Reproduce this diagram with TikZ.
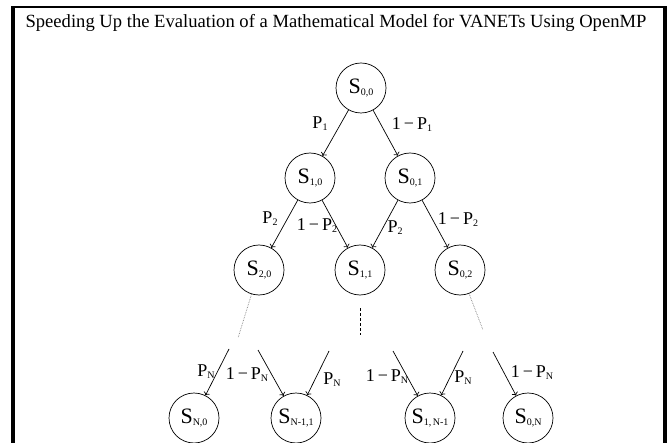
\documentclass[tikz,border=0pt]{standalone}
\usepackage{fontspec}
\setmainfont{Liberation Serif}
\usepackage{tikz}
\usetikzlibrary{arrows.meta, positioning, calc}

\newcommand{\stt}[1]{S\raisebox{-2pt}{\fontsize{10}{10}\selectfont #1}}
\newcommand{\prb}[1]{P\raisebox{-2pt}{\fontsize{10}{10}\selectfont #1}}

\begin{document}
\begin{tikzpicture}[
    x=1pt, y=-1pt,
    >=To,
    state/.style={circle, draw, line width=0.7pt, minimum size=50pt, inner sep=0pt, font=\fontsize{22}{24}\selectfont},
    trans/.style={->, line width=0.7pt},
    prob/.style={font=\fontsize{18}{20}\selectfont, inner sep=0pt},
]
    \useasboundingbox (0,0) rectangle (671,443);
    \fill[white] (0,0) rectangle (671,443);

    % frame of the page
    \fill[black] (11,6) rectangle (15,443);
    \fill[black] (663,6) rectangle (667,443);
    \fill[black] (11,6) rectangle (667,8);

    \node[anchor=base, font=\fontsize{18.6}{21}\selectfont] (title) at (336,28)
        {Speeding Up the Evaluation of a Mathematical Model for VANETs Using OpenMP};

    % states
    \node[state] (s00) at (361,88) {\stt{0,0}};
    \node[state] (s10) at (310,178) {\stt{1,0}};
    \node[state] (s01) at (410,178) {\stt{0,1}};
    \node[state] (s20) at (259,270) {\stt{2,0}};
    \node[state] (s11) at (360,270) {\stt{1,1}};
    \node[state] (s02) at (460,270) {\stt{0,2}};
    \node[state] (sN0) at (194,418) {\stt{N,0}};
    \node[state] (sN11) at (296,418) {\stt{N-1,1}};
    \node[state] (s1N1) at (430,418) {\stt{1,\,N-1}};
    \node[state] (s0N) at (528,418) {\stt{0,N}};

    \draw[trans] (s00) -- (s10);
    \draw[trans] (s00) -- (s01);
    \draw[trans] (s10) -- (s20);
    \draw[trans] (s10) -- (s11);
    \draw[trans] (s01) -- (s11);
    \draw[trans] (s01) -- (s02);

    \node[prob] (p1) at (320,124) {\prb{1}};
    \node[prob] (q1) at (412,125) {1\,\textminus\,\prb{1}};
    \node[prob] (p2a) at (270,219) {\prb{2}};
    \node[prob] (q2a) at (317,226) {1\,\textminus\,\prb{2}};
    \node[prob] (p2b) at (395,228) {\prb{2}};
    \node[prob] (q2b) at (458,220) {1\,\textminus\,\prb{2}};

    % omitted levels
    \coordinate (d20) at (238,338);
    \coordinate (d11) at (360,335);
    \coordinate (d02) at (483,330);
    \draw[gray, densely dotted, line width=0.7pt] (s20) -- (d20);
    \draw[densely dashed, line width=0.8pt, shorten <=13pt] (s11) -- (d11);
    \draw[gray, densely dotted, line width=0.7pt] (s02) -- (d02);

    % last level
    \coordinate (a1) at (229,349);
    \coordinate (a2) at (258,350);
    \coordinate (a3) at (329,351);
    \coordinate (a4) at (393,351);
    \coordinate (a5) at (463,351);
    \coordinate (a6) at (493,352);
    \draw[trans] (a1) -- (sN0);
    \draw[trans] (a2) -- (sN11);
    \draw[trans] (a3) -- (sN11);
    \draw[trans] (a4) -- (s1N1);
    \draw[trans] (a5) -- (s1N1);
    \draw[trans] (a6) -- (s0N);

    \node[prob] (pn1) at (206,372) {\prb{N}};
    \node[prob] (qn1) at (247,375) {1\,\textminus\,\prb{N}};
    \node[prob] (pn2) at (332,380) {\prb{N}};
    \node[prob] (qn2) at (387,377) {1\,\textminus\,\prb{N}};
    \node[prob] (pn3) at (463,378) {\prb{N}};
    \node[prob] (qn3) at (532,373) {1\,\textminus\,\prb{N}};
\end{tikzpicture}
\end{document}
